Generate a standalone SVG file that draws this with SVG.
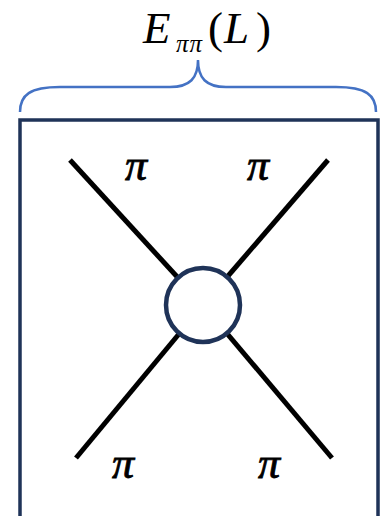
<svg xmlns="http://www.w3.org/2000/svg" width="390" height="516" viewBox="0 0 390 516">
<style>
.lbl{font-family:"Liberation Serif","DejaVu Serif",serif;font-style:italic;fill:#000}
.up{font-family:"Liberation Serif","DejaVu Serif",serif;font-style:normal;fill:#000}
.pi{font-family:"Liberation Serif","DejaVu Serif",serif;font-style:italic;fill:#000;stroke:#000;stroke-width:0.8;font-size:44px}
.leg{stroke:#000;stroke-width:5;fill:none}
</style>
<rect width="390" height="516" fill="#fff"/>
<g id="title">
<text class="lbl" x="143" y="43" font-size="45">E</text>
<text class="lbl" x="176" y="52" font-size="25" letter-spacing="1">ππ</text>
<text class="up" x="208" y="43" font-size="45">(</text>
<text class="lbl" x="224" y="43" font-size="45">L</text>
<text class="up" x="256" y="43" font-size="45">)</text>
</g>
<g id="brace">
<path d="M20,112 C20,95 30,87 60,87 L170,87 C190,87 198,78 198,60 C198,78 206,87 226,87 L336,87 C366,87 376,95 376,112" fill="none" stroke="#4472c4" stroke-width="2.5"/>
</g>
<g id="box">
<rect x="20" y="120" width="358" height="400" fill="none" stroke="#1f3358" stroke-width="3.5"/>
</g>
<g id="connectors">
<line class="leg" x1="70" y1="160" x2="203" y2="305"/>
<line class="leg" x1="328" y1="160" x2="203" y2="305"/>
<line class="leg" x1="76" y1="458" x2="203" y2="305"/>
<line class="leg" x1="332" y1="458" x2="203" y2="305"/>
</g>
<g id="vertex">
<circle cx="203" cy="305" r="37" fill="#fff" stroke="#1f3358" stroke-width="4.5"/>
</g>
<g id="labels">
<text class="pi" x="125" y="180">π</text>
<text class="pi" x="247" y="180">π</text>
<text class="pi" x="112" y="478">π</text>
<text class="pi" x="258" y="478">π</text>
</g>
</svg>
